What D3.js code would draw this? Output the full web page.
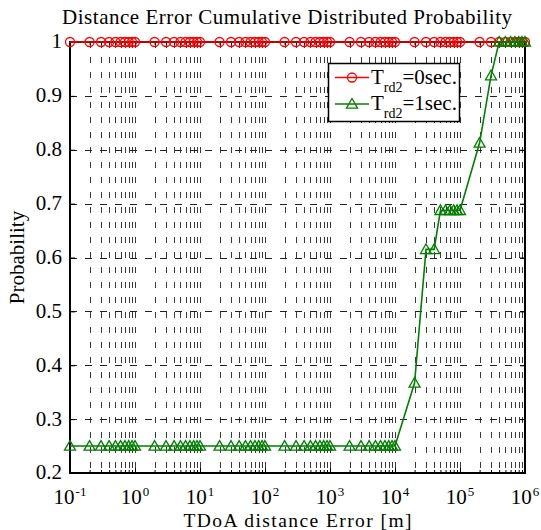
<!DOCTYPE html>
<html>
<head>
<meta charset="utf-8">
<script src="https://cdn.jsdelivr.net/npm/d3@7"></script>
<style>
  html, body { margin: 0; padding: 0; background: #fff; }
  svg { display: block; }
  text { font-family: "Liberation Serif", "Times New Roman", serif; fill: #000; }
</style>
</head>
<body>
<svg id="chart" width="541" height="530"></svg>
<script>
// Error sample points: 1..9 x 10^k for each decade, plus the upper limit
const errorPoints = [
  0.1, 0.2, 0.3, 0.4, 0.5, 0.6, 0.7, 0.8, 0.9,
  1, 2, 3, 4, 5, 6, 7, 8, 9,
  10, 20, 30, 40, 50, 60, 70, 80, 90,
  100, 200, 300, 400, 500, 600, 700, 800, 900,
  1000, 2000, 3000, 4000, 5000, 6000, 7000, 8000, 9000,
  10000, 20000, 30000, 40000, 50000, 60000, 70000, 80000, 90000,
  100000, 200000, 300000, 400000, 500000, 600000, 700000, 800000, 900000,
  1000000
];

// CDF for Trd2 = 0 sec.
const probTrd0 = [
  1, 1, 1, 1, 1, 1, 1, 1, 1,
  1, 1, 1, 1, 1, 1, 1, 1, 1,
  1, 1, 1, 1, 1, 1, 1, 1, 1,
  1, 1, 1, 1, 1, 1, 1, 1, 1,
  1, 1, 1, 1, 1, 1, 1, 1, 1,
  1, 1, 1, 1, 1, 1, 1, 1, 1,
  1, 1, 1, 1, 1, 1, 1, 1, 1,
  1
];

// CDF for Trd2 = 1 sec.
const probTrd1 = [
  0.25, 0.25, 0.25, 0.25, 0.25, 0.25, 0.25, 0.25, 0.25,
  0.25, 0.25, 0.25, 0.25, 0.25, 0.25, 0.25, 0.25, 0.25,
  0.25, 0.25, 0.25, 0.25, 0.25, 0.25, 0.25, 0.25, 0.25,
  0.25, 0.25, 0.25, 0.25, 0.25, 0.25, 0.25, 0.25, 0.25,
  0.25, 0.25, 0.25, 0.25, 0.25, 0.25, 0.25, 0.25, 0.25,
  0.25, 0.367, 0.615, 0.615, 0.6875, 0.6875, 0.6875, 0.6875, 0.6875,
  0.6875, 0.8125, 0.9375, 1, 1, 1, 1, 1, 1,
  1
];

const xTickExponents = [-1, 0, 1, 2, 3, 4, 5, 6];
const yTickValues = [0.2, 0.3, 0.4, 0.5, 0.6, 0.7, 0.8, 0.9, 1];
const yGridValues = [0.3, 0.4, 0.5, 0.6, 0.7, 0.8, 0.9];

const titleText = "Distance Error Cumulative Distributed Probability";
const xLabelText = "TDoA distance Error [m]";
const yLabelText = "Probability";

const legendItems = [
  { sub: "rd2", rest: "=0sec.", color: "#ff0000", symbol: "circle" },
  { sub: "rd2", rest: "=1sec.", color: "#008000", symbol: "triangle" }
];

const plot = { left: 70, right: 525, top: 42, bottom: 473 };

const svg = d3.select("#chart");

const x = d3.scaleLog().domain([0.1, 1e6]).range([plot.left, plot.right]);
const y = d3.scaleLinear().domain([0.2, 1]).range([plot.bottom, plot.top]);

// Minor/major x grid positions inside the axes
const xGridValues = errorPoints.filter(v => v > 0.1 && v < 1e6);

const grid = svg.append("g");
grid.selectAll("line.vg").data(xGridValues).join("line")
  .attr("x1", d => Math.round(x(d)) + 0.5).attr("x2", d => Math.round(x(d)) + 0.5)
  .attr("y1", plot.top).attr("y2", plot.bottom)
  .attr("stroke", "#3a3a3a").attr("stroke-width", 1)
  .attr("stroke-dasharray", "6,9");
grid.selectAll("line.hg").data(yGridValues).join("line")
  .attr("x1", plot.left).attr("x2", plot.right)
  .attr("y1", d => Math.round(y(d)) + 0.5).attr("y2", d => Math.round(y(d)) + 0.5)
  .attr("stroke", "#222").attr("stroke-width", 1)
  .attr("stroke-dasharray", "7,8");

// Axes with inward ticks
const majorX = xTickExponents.map(e => Math.pow(10, e));
const minorX = xGridValues.filter(v => !majorX.includes(v));

const axisStyle = g => {
  g.select(".domain").remove();
  g.selectAll(".tick line").attr("stroke", "#000").attr("stroke-width", 1);
};

svg.append("g").attr("transform", `translate(0,${plot.bottom})`)
  .call(d3.axisBottom(x).tickValues(majorX).tickSize(-5).tickFormat(""))
  .call(axisStyle);
svg.append("g").attr("transform", `translate(0,${plot.bottom})`)
  .call(d3.axisBottom(x).tickValues(minorX).tickSize(-3).tickFormat(""))
  .call(axisStyle);
svg.append("g").attr("transform", `translate(0,${plot.top})`)
  .call(d3.axisTop(x).tickValues(majorX).tickSize(-5).tickFormat(""))
  .call(axisStyle);
svg.append("g").attr("transform", `translate(0,${plot.top})`)
  .call(d3.axisTop(x).tickValues(minorX).tickSize(-3).tickFormat(""))
  .call(axisStyle);

const yAxis = svg.append("g").attr("transform", `translate(${plot.left},0)`)
  .call(d3.axisLeft(y).tickValues(yTickValues).tickSize(-5).tickPadding(8)
    .tickFormat(d => d === 1 ? "1" : d3.format(".1f")(d)))
  .call(axisStyle);
yAxis.selectAll(".tick text")
  .attr("font-size", 21).attr("font-family", "Liberation Serif").attr("dy", "0.28em");

svg.append("g").attr("transform", `translate(${plot.right},0)`)
  .call(d3.axisRight(y).tickValues(yTickValues).tickSize(-5).tickFormat(""))
  .call(axisStyle);

// Frame
svg.append("rect")
  .attr("x", plot.left).attr("y", plot.top)
  .attr("width", plot.right - plot.left).attr("height", plot.bottom - plot.top)
  .attr("fill", "none").attr("stroke", "#000").attr("stroke-width", 2);

// X tick labels as powers of ten
const xLabels = svg.append("g");
xTickExponents.forEach(e => {
  const t = xLabels.append("text")
    .attr("x", x(Math.pow(10, e)))
    .attr("y", 504)
    .attr("text-anchor", "middle")
    .attr("font-size", 21);
  t.append("tspan").text("10");
  t.append("tspan").attr("dy", -8).attr("dx", 1).attr("font-size", 13).text(String(e));
});

// Series
const seriesData = [
  { values: probTrd0, color: "#ff0000", symbol: "circle" },
  { values: probTrd1, color: "#008000", symbol: "triangle" }
];

const line = d3.line().x(d => x(d[0])).y(d => y(d[1]));

function drawMarker(g, symbol, color, cx, cy) {
  if (symbol === "circle") {
    g.append("circle").attr("cx", cx).attr("cy", cy).attr("r", 4.5)
      .attr("fill", "none").attr("stroke", color).attr("stroke-width", 1.3);
  } else {
    const s = 5.5;
    g.append("path")
      .attr("d", `M${cx},${cy - s}L${cx + s},${cy + s * 0.75}L${cx - s},${cy + s * 0.75}Z`)
      .attr("fill", "none").attr("stroke", color).attr("stroke-width", 1.3);
  }
}

seriesData.forEach(s => {
  const pts = errorPoints.map((v, i) => [v, s.values[i]]);
  const g = svg.append("g");
  g.append("path").datum(pts).attr("d", line)
    .attr("fill", "none").attr("stroke", s.color).attr("stroke-width", 1.6);
  pts.forEach(p => drawMarker(g, s.symbol, s.color, x(p[0]), y(p[1])));
});

// Legend
const legend = svg.append("g");
legend.append("rect")
  .attr("x", 328.5).attr("y", 63.5).attr("width", 131).attr("height", 58)
  .attr("fill", "#fff").attr("stroke", "#000").attr("stroke-width", 1.5);
legendItems.forEach((item, i) => {
  const ly = 77.5 + i * 26.5;
  legend.append("line").attr("x1", 335).attr("x2", 369).attr("y1", ly).attr("y2", ly)
    .attr("stroke", item.color).attr("stroke-width", 1.6);
  drawMarker(legend, item.symbol, item.color, 352, ly);
  const t = legend.append("text").attr("x", 371).attr("y", ly + 6).attr("font-size", 21);
  t.append("tspan").text("T");
  t.append("tspan").attr("dy", 8).attr("font-size", 14).text(item.sub);
  t.append("tspan").attr("dy", -8).text(item.rest);
});

// Titles
svg.append("text")
  .attr("x", 62).attr("y", 24)
  .attr("font-size", 21)
  .attr("textLength", 450).attr("lengthAdjust", "spacing")
  .text(titleText);
svg.append("text")
  .attr("x", (plot.left + plot.right) / 2).attr("y", 526.5)
  .attr("text-anchor", "middle").attr("font-size", 19.5)
  .attr("textLength", 228).attr("lengthAdjust", "spacing")
  .text(xLabelText);
svg.append("text")
  .attr("transform", `translate(24,${(plot.top + plot.bottom) / 2}) rotate(-90)`)
  .attr("text-anchor", "middle").attr("font-size", 21)
  .text(yLabelText);
</script>
</body>
</html>
